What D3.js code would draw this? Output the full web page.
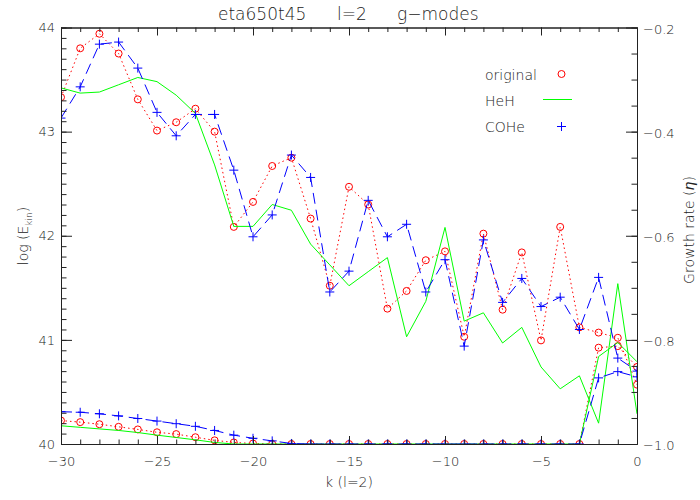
<!DOCTYPE html>
<html>
<head>
<meta charset="utf-8">
<script src="https://cdn.jsdelivr.net/npm/d3@7"></script>
<style>
  html, body { margin: 0; padding: 0; background: #fff; }
  svg text { font-family: "DejaVu Sans", sans-serif; font-weight: 200; fill: #222; }
</style>
</head>
<body>
<svg id="chart" width="700" height="500"></svg>
<script>
// ---------- data ----------
const kValues = [-30,-29,-28,-27,-26,-25,-24,-23,-22,-21,-20,-19,-18,-17,-16,-15,-14,-13,-12,-11,-10,-9,-8,-7,-6,-5,-4,-3,-2,-1,0];

// log(E_kin) (left axis)
const originalEkin = [43.33,43.80,43.94,43.75,43.31,43.01,43.09,43.22,43.00,42.085,42.325,42.67,42.75,42.165,41.52,42.47,42.30,41.30,41.47,41.765,41.85,41.03,42.02,41.29,41.84,40.995,42.085,41.12,41.07,41.02,40.57];
const hehEkin      = [43.42,43.37,43.38,43.45,43.52,43.48,43.35,43.175,42.68,42.09,42.09,42.30,42.245,41.92,41.72,41.52,41.655,41.79,41.03,41.37,42.08,41.18,41.26,40.97,41.12,40.74,40.53,40.655,40.20,41.54,40.29];
const coheEkin     = [43.13,43.43,43.84,43.86,43.61,43.185,42.96,43.165,43.165,42.63,41.99,42.20,42.775,42.56,41.46,41.66,42.34,41.99,42.11,41.46,41.77,40.94,41.96,41.36,41.59,41.32,41.41,41.10,41.60,40.825,40.70];

// growth rate eta (right axis)
const originalEta = [-0.955,-0.958,-0.962,-0.967,-0.972,-0.9775,-0.981,-0.987,-0.993,-0.997,-0.999,-1,-1,-1,-1,-1,-1,-1,-1,-1,-1,-1,-1,-1,-1,-1,-1,-1,-0.815,-0.812,-0.852];
const hehEta      = [-0.965,-0.968,-0.971,-0.974,-0.978,-0.983,-0.9875,-0.992,-0.997,-1,-1,-1,-1,-1,-1,-1,-1,-1,-1,-1,-1,-1,-1,-1,-1,-1,-1,-1,-0.832,-0.805,-0.842];
const coheEta     = [-0.938,-0.939,-0.942,-0.946,-0.951,-0.956,-0.961,-0.966,-0.974,-0.983,-0.989,-0.994,-0.999,-1,-1,-1,-1,-1,-1,-1,-1,-1,-1,-1,-1,-1,-1,-1,-0.873,-0.861,-0.871];

const xMajorTicks = [-30,-25,-20,-15,-10,-5,0];
const leftMajorTicks = [40,41,42,43,44];
const rightMajorTicks = [-1.0,-0.8,-0.6,-0.4,-0.2];
const legendLabels = ["original","HeH","COHe"];
const titleParts = ["eta650t45","l=2","g\u2212modes"];

// ---------- layout ----------
const svg = d3.select("#chart");
const L = 61, R = 637, T = 27.5, B = 444;
const x = d3.scaleLinear().domain([-30,0]).range([L,R]);
const yL = d3.scaleLinear().domain([40,44]).range([B,T]);
const yR = d3.scaleLinear().domain([-1,-0.2]).range([B,T]);

const red = "#ff0000", green = "#00ff00", blue = "#0000ff", axisCol = "#222";

svg.append("defs").append("clipPath").attr("id","plotclip")
  .append("rect").attr("x",L).attr("y",T).attr("width",R-L).attr("height",B-T);

// ---------- data ----------
const g = svg.append("g").attr("clip-path","url(#plotclip)");
function series(vals, yS, color, dash, marker) {
  const pts = kValues.map((k,i)=>[k, vals[i]]);
  const line = d3.line().x(d=>x(d[0])).y(d=>yS(d[1]));
  g.append("path").datum(pts).attr("d",line).attr("fill","none")
    .attr("stroke",color).attr("stroke-width",1)
    .attr("stroke-dasharray",dash);
  if (marker === "circle") {
    g.selectAll(null).data(pts).enter().append("circle")
      .attr("cx",d=>x(d[0])).attr("cy",d=>yS(d[1])).attr("r",3.5)
      .attr("fill","none").attr("stroke",color).attr("stroke-width",1);
  } else if (marker === "plus") {
    g.selectAll(null).data(pts).enter().append("path")
      .attr("d",d=>{const cx=x(d[0]), cy=yS(d[1]); return `M${cx-4.5},${cy}H${cx+4.5}M${cx},${cy-4.5}V${cy+4.5}`;})
      .attr("fill","none").attr("stroke",color).attr("stroke-width",1);
  }
}
series(originalEkin, yL, red, "1.5,3", "circle");
series(originalEta, yR, red, "1.5,3", "circle");
series(hehEkin, yL, green, null, null);
series(hehEta, yR, green, null, null);
series(coheEkin, yL, blue, "11,6", "plus");
series(coheEta, yR, blue, "11,6", "plus");

// ---------- axes ----------
function styleAxis(sel) {
  sel.selectAll("path.domain").attr("stroke",axisCol).attr("stroke-width",1);
  sel.selectAll(".tick line").attr("stroke",axisCol).attr("stroke-width",1);
  sel.selectAll(".tick text").attr("font-size",13).style("font-family","DejaVu Sans, sans-serif")
    .style("font-weight",200).attr("fill","#222");
}
// bottom
const bMinor = svg.append("g").attr("transform",`translate(0,${B})`)
  .call(d3.axisBottom(x).tickValues(d3.range(-30,1,1)).tickSize(-4.5).tickSizeOuter(0).tickFormat(""));
styleAxis(bMinor);
const bMajor = svg.append("g").attr("transform",`translate(0,${B})`)
  .call(d3.axisBottom(x).tickValues(xMajorTicks).tickSize(-8).tickSizeOuter(0).tickPadding(13).tickFormat(d3.format("d")));
styleAxis(bMajor);
// top
const tMinor = svg.append("g").attr("transform",`translate(0,${T})`)
  .call(d3.axisTop(x).tickValues(d3.range(-30,1,1)).tickSize(-4.5).tickSizeOuter(0).tickFormat(""));
styleAxis(tMinor);
const tMajor = svg.append("g").attr("transform",`translate(0,${T})`)
  .call(d3.axisTop(x).tickValues(xMajorTicks).tickSize(-8).tickSizeOuter(0).tickFormat(""));
styleAxis(tMajor);
// left
const lMinor = svg.append("g").attr("transform",`translate(${L},0)`)
  .call(d3.axisLeft(yL).tickValues(d3.range(0,41).map(i=>40+i*0.1)).tickSize(-5.5).tickSizeOuter(0).tickFormat(""));
styleAxis(lMinor);
const lMajor = svg.append("g").attr("transform",`translate(${L},0)`)
  .call(d3.axisLeft(yL).tickValues(leftMajorTicks).tickSize(-11).tickSizeOuter(0).tickPadding(6).tickFormat(d3.format("d")));
styleAxis(lMajor);
// right
const rMinor = svg.append("g").attr("transform",`translate(${R},0)`)
  .call(d3.axisRight(yR).tickValues(d3.range(0,17).map(i=>-1+i*0.05)).tickSize(-5.5).tickSizeOuter(0).tickFormat(""));
styleAxis(rMinor);
const rMajor = svg.append("g").attr("transform",`translate(${R},0)`)
  .call(d3.axisRight(yR).tickValues(rightMajorTicks).tickSize(-11).tickSizeOuter(0).tickPadding(6).tickFormat(d3.format(".1f")));
styleAxis(rMajor);
rMajor.selectAll(".tick text").attr("dy","0.45em");

// ---------- titles ----------
const titleX = [218, 337, 397];
titleParts.forEach((t,i)=>{
  svg.append("text").attr("x",titleX[i]).attr("y",20).attr("font-size",17).text(t);
});
svg.append("text").attr("x",(L+R)/2).attr("y",487).attr("text-anchor","middle")
  .attr("font-size",14).text("k (l=2)");

const yl = svg.append("text").attr("transform",`translate(28,236) rotate(-90)`)
  .attr("text-anchor","middle").attr("font-size",14);
yl.append("tspan").text("log (E");
yl.append("tspan").attr("font-size",9).attr("dy",4).text("kin");
yl.append("tspan").attr("dy",-4).text(")");

const yr = svg.append("text").attr("transform",`translate(694,230) rotate(-90)`)
  .attr("text-anchor","middle").attr("font-size",14);
yr.append("tspan").text("Growth rate (");
yr.append("tspan").attr("font-style","italic").text("\u03B7");
yr.append("tspan").text(")");

// ---------- legend ----------
const legY = [80, 106, 132];
legendLabels.forEach((lab,i)=>{
  svg.append("text").attr("x",485).attr("y",legY[i]).attr("font-size",14).text(lab);
});
svg.append("circle").attr("cx",561.5).attr("cy",74).attr("r",3.5)
  .attr("fill","none").attr("stroke",red).attr("stroke-width",1);
svg.append("line").attr("x1",543).attr("x2",572).attr("y1",99.5).attr("y2",99.5)
  .attr("stroke",green).attr("stroke-width",1);
svg.append("path").attr("d","M557,126.5H566M561.5,122V131")
  .attr("stroke",blue).attr("stroke-width",1).attr("fill","none");
</script>
</body>
</html>
